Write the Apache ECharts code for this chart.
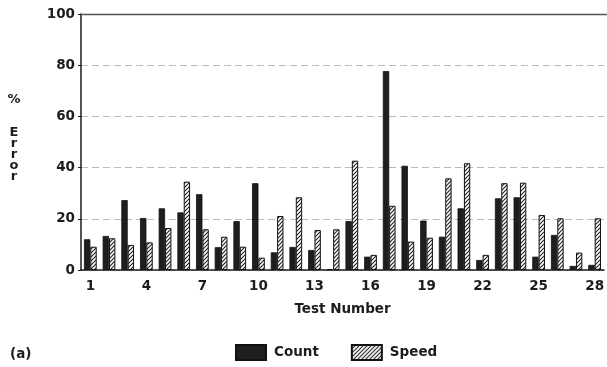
<!DOCTYPE html>
<html>
<head>
<meta charset="utf-8">
<script src="https://cdn.jsdelivr.net/npm/echarts@6/dist/echarts.min.js"></script>
<style>
  html, body { margin: 0; padding: 0; background: #fff; }
  #chart { width: 607px; height: 367px; }
</style>
</head>
<body>
<div id="chart"></div>
<script>
// Test numbers on the x axis
const tests = Array.from({ length: 28 }, (_, i) => String(i + 1));

// Percent error per test
const countError = [12, 13.3, 27.3, 20.3, 24.1, 22.5, 29.6, 8.9, 19.1, 33.9,
                    6.9, 9.0, 7.8, 0.3, 19.1, 5.2, 77.7, 40.7, 19.3, 13.0,
                    24.1, 3.9, 28.0, 28.4, 5.2, 13.7, 1.6, 2.0];
const speedError = [9.1, 12.4, 9.8, 10.8, 16.4, 34.5, 15.9, 13.0, 9.1, 4.8,
                    21.1, 28.4, 15.6, 15.9, 42.7, 5.9, 25.1, 11.1, 12.6, 35.8,
                    41.7, 5.9, 33.9, 34.1, 21.5, 20.2, 6.8, 20.2];

const yTicks = [0, 20, 40, 60, 80, 100];

// Diagonal hatch used for the Speed bars
function hatchPattern() {
  const c = document.createElement('canvas');
  c.width = 4; c.height = 4;
  const g = c.getContext('2d');
  g.fillStyle = '#fff';
  g.fillRect(0, 0, 4, 4);
  g.strokeStyle = '#222';
  g.lineWidth = 1.1;
  g.beginPath();
  g.moveTo(-1, 5); g.lineTo(5, -1);
  g.moveTo(-1, 1); g.lineTo(1, -1);
  g.moveTo(3, 5); g.lineTo(5, 3);
  g.stroke();
  return c;
}

const font = '"DejaVu Sans", sans-serif';
const ink = '#1c1c1c';
const fs = 13.5;
const chart = echarts.init(document.getElementById('chart'));

// Vertical "% Error" title, one glyph per line (baselines)
const yLetters = ['%', 'E', 'r', 'r', 'o', 'r'];
const yLetterBase = [103, 136, 147, 158, 169, 180];

chart.setOption({
  animation: false,
  grid: { left: 81, right: 0, top: 14, bottom: 97 },
  legend: {
    left: 235, top: 344, padding: 0,
    icon: 'rect',
    itemWidth: 30, itemHeight: 15, itemGap: 32,
    textStyle: { fontFamily: font, fontSize: fs, fontWeight: 'bold', color: ink, padding: [0, 0, 0, 3] },
    data: ['Count', 'Speed']
  },
  xAxis: {
    type: 'category',
    data: tests,
    name: 'Test Number',
    nameLocation: 'middle',
    nameGap: 32,
    nameTextStyle: { fontFamily: font, fontSize: fs, fontWeight: 'bold', color: ink },
    axisLine: { lineStyle: { color: ink, width: 1.5 } },
    axisTick: { alignWithLabel: true, interval: 2, length: 5, lineStyle: { color: ink } },
    axisLabel: { interval: 2, margin: 9, fontFamily: font, fontSize: fs, fontWeight: 'bold', color: ink }
  },
  yAxis: {
    type: 'value',
    min: yTicks[0], max: yTicks[yTicks.length - 1], interval: 20,
    axisLine: { show: true, lineStyle: { color: ink, width: 1.5 } },
    axisTick: { show: true, length: 3, lineStyle: { color: ink } },
    axisLabel: { margin: 6, fontFamily: font, fontSize: fs, fontWeight: 'bold', color: ink },
    splitLine: { show: true, lineStyle: { color: '#bbb', type: [7, 4], width: 1 } }
  },
  graphic: [
    {
      type: 'line', z: 100, shape: { x1: 81, y1: 14.5, x2: 607, y2: 14.5 },
      style: { stroke: '#555', lineWidth: 1.5 }
    },
    {
      type: 'text', x: 10, y: 361,
      style: { text: '(a)', fontFamily: font, fontSize: fs, fontWeight: 'bold', fill: ink, verticalAlign: 'bottom' }
    }
  ].concat(yLetters.map((ch, i) => ({
    type: 'text', x: 14, y: yLetterBase[i] + 3,
    style: { text: ch, align: 'center', verticalAlign: 'bottom', fontFamily: font, fontSize: 13, fontWeight: 'bold', fill: ink }
  }))),
  series: [
    {
      name: 'Count', type: 'bar', data: countError,
      barWidth: '34%', barGap: '0%',
      itemStyle: { color: '#1e1e1e', borderColor: '#111', borderWidth: 0.8 }
    },
    {
      name: 'Speed', type: 'bar', data: speedError,
      barWidth: '34%',
      itemStyle: { color: { image: hatchPattern(), repeat: 'repeat' }, borderColor: '#111', borderWidth: 1 }
    }
  ]
});
</script>
</body>
</html>
